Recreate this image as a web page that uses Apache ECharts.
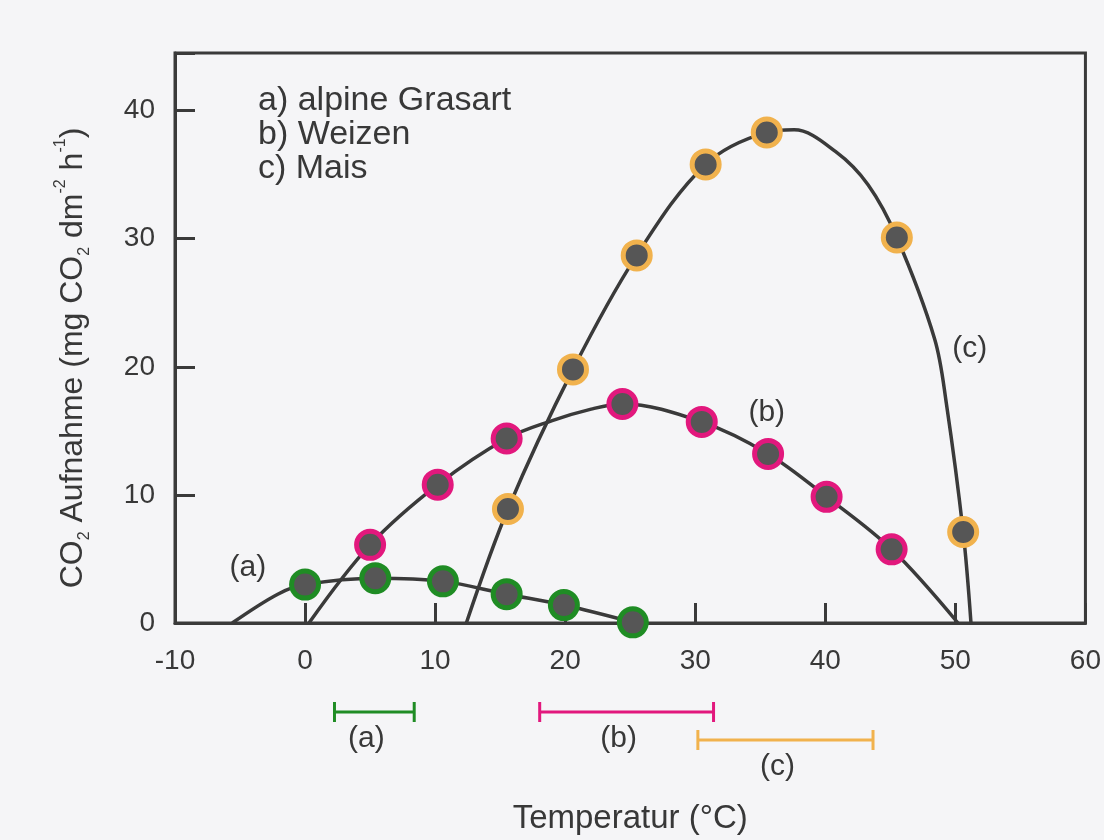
<!DOCTYPE html>
<html>
<head>
    <meta charset="utf-8">
    <script src="https://cdn.jsdelivr.net/npm/echarts@6/dist/echarts.min.js"></script>
</head>
<body style="margin:0;background:#f5f5f7;">
    <div id="main" style="width: 1104px;height:840px;"></div>
    <script type="text/javascript">
        // Messpunkte [Temperatur °C, CO2-Aufnahme]
        var pointsA = [[0, 3.0], [5.4, 3.5], [10.6, 3.25], [15.5, 2.25], [19.9, 1.4], [25.2, 0.05]];
        var pointsB = [[5.0, 6.1], [10.2, 10.8], [15.5, 14.4], [24.4, 17.1], [30.5, 15.7], [35.6, 13.2], [40.1, 9.85], [45.1, 5.75]];
        var pointsC = [[15.6, 8.9], [20.6, 19.8], [25.5, 28.7], [30.8, 35.8], [35.5, 38.3], [45.5, 30.1], [50.6, 7.1]];

        var curveA = [[-5.6, 0], [-2.1, 2.25], [0, 3.0], [5.4, 3.5], [10.6, 3.25], [15.5, 2.25], [19.9, 1.4], [25.2, 0.05]];
        var curveB = [[0.3, 0], [5.0, 6.1], [10.2, 10.8], [15.5, 14.4], [19, 15.8], [22, 16.7], [24.4, 17.1], [30.5, 15.7], [35.6, 13.2], [40.1, 9.85], [45.1, 5.75], [50.2, 0]];
        var curveC = [[12.4, 0], [15.6, 8.9], [20.6, 19.8], [25.5, 28.7], [30.8, 35.8], [35.5, 38.3], [37.6, 38.5], [40.8, 36.8], [43.3, 34.2], [45.5, 30.1], [48.4, 22.2], [49.3, 17.2], [50.6, 7.1], [51.2, 0]];

        // Beschriftung der Kurven
        var curveLabelNames = ['(a)', '(b)', '(c)'];
        var curveLabelPos = [[-4.4, 4.3], [35.5, 16.4], [51.1, 21.4]];

        // Temperaturbereiche unter der Achse
        var rangeNames = ['(a)', '(b)', '(c)'];
        var rangeStart = [2.2, 17.9, 30.0];
        var rangeEnd = [8.3, 31.2, 43.4];
        var rangeRow = [12, 12, 40];

        var legendLines = ['a) alpine Grasart', 'b) Weizen', 'c) Mais'];

        var font = 'Liberation Sans';
        var textColor = '#383838';
        var lineColor = '#3a3a3a';
        var colors = ['#1f8c24', '#e2187d', '#f1b24d'];

        var myChart = echarts.init(document.getElementById('main'));

        function markers(data, color) {
            return {
                type: 'scatter',
                data: data,
                symbol: 'circle',
                symbolSize: 27,
                itemStyle: { color: '#565656', borderColor: color, borderWidth: 5, opacity: 1 },
                z: 5
            };
        }
        function curve(data) {
            return {
                type: 'line',
                data: data,
                smooth: 0.35,
                showSymbol: false,
                lineStyle: { color: lineColor, width: 3.5 },
                z: 3
            };
        }

        var rangeData = [];
        for (var i = 0; i < rangeNames.length; i++) {
            rangeData.push([rangeStart[i], rangeEnd[i], rangeRow[i]]);
        }
        var labelData = [];
        for (var j = 0; j < curveLabelNames.length; j++) {
            labelData.push({ name: curveLabelNames[j], value: curveLabelPos[j] });
        }

        var option = {
            backgroundColor: '#f5f5f7',
            animation: false,
            textStyle: { fontFamily: font },
            grid: [
                { left: 175, right: 14, top: 53, bottom: 215, show: true, borderColor: lineColor, borderWidth: 3 },
                { left: 175, right: 14, top: 700, height: 100 }
            ],
            xAxis: [
                {
                    type: 'value', min: -10, max: 60, interval: 10,
                    name: 'Temperatur (°C)', nameLocation: 'middle', nameGap: 179,
                    nameTextStyle: { fontSize: 33, color: textColor, fontFamily: font },
                    axisLine: { onZero: false, lineStyle: { color: lineColor, width: 3 } },
                    axisTick: { inside: true, length: 20, lineStyle: { color: lineColor, width: 3 } },
                    axisLabel: { fontSize: 28, color: textColor, margin: 24, fontFamily: font },
                    splitLine: { show: false }
                },
                { type: 'value', gridIndex: 1, min: -10, max: 60, show: false }
            ],
            yAxis: [
                {
                    type: 'value', min: 0, max: 44.5, interval: 10,
                    name: '{t|CO}{s|2}{t| Aufnahme (mg CO}{s|2}{t| dm}{p|-2}{t| h}{p|-1}{t|)}',
                    nameLocation: 'middle', nameGap: 82,
                    nameTextStyle: {
                        padding: [0, 40, 0, 0],
                        rich: {
                            t: { fontSize: 32, color: textColor, fontFamily: font, lineHeight: 40 },
                            s: { fontSize: 16, color: textColor, fontFamily: font, lineHeight: 16, verticalAlign: 'bottom' },
                            p: { fontSize: 16, color: textColor, fontFamily: font, lineHeight: 16, verticalAlign: 'top' }
                        }
                    },
                    axisLine: { onZero: false, lineStyle: { color: lineColor, width: 3 } },
                    axisTick: { inside: true, length: 20, lineStyle: { color: lineColor, width: 3 } },
                    axisLabel: {
                        fontSize: 28, color: textColor, margin: 20, fontFamily: font,
                        formatter: function (v) { return v % 10 === 0 ? String(v) : ''; }
                    },
                    splitLine: { show: false }
                },
                { type: 'value', gridIndex: 1, min: 0, max: 100, inverse: true, show: false }
            ],
            graphic: [
                {
                    type: 'text', left: 258, top: 84,
                    style: {
                        text: legendLines.join('\n'),
                        fill: textColor,
                        font: '34px "' + font + '"',
                        lineHeight: 34
                    }
                }
            ],
            series: [
                curve(curveA),
                curve(curveB),
                curve(curveC),
                markers(pointsA, colors[0]),
                markers(pointsB, colors[1]),
                markers(pointsC, colors[2]),
                {
                    type: 'scatter',
                    data: labelData,
                    symbolSize: 1,
                    itemStyle: { color: 'rgba(0,0,0,0)', opacity: 1 },
                    label: {
                        show: true, position: 'inside', formatter: '{b}',
                        fontSize: 30, color: textColor, fontFamily: font, opacity: 1
                    },
                    z: 6
                },
                {
                    type: 'custom',
                    xAxisIndex: 1,
                    yAxisIndex: 1,
                    data: rangeData,
                    renderItem: function (params, api) {
                        var p1 = api.coord([api.value(0), api.value(2)]);
                        var p2 = api.coord([api.value(1), api.value(2)]);
                        var c = colors[params.dataIndex];
                        var st = { stroke: c, lineWidth: 3 };
                        return {
                            type: 'group',
                            children: [
                                { type: 'line', shape: { x1: p1[0], y1: p1[1], x2: p2[0], y2: p2[1] }, style: st },
                                { type: 'line', shape: { x1: p1[0], y1: p1[1] - 10, x2: p1[0], y2: p1[1] + 10 }, style: st },
                                { type: 'line', shape: { x1: p2[0], y1: p2[1] - 10, x2: p2[0], y2: p2[1] + 10 }, style: st },
                                {
                                    type: 'text', x: (p1[0] + p2[0]) / 2 - 8, y: p1[1] + 27,
                                    style: {
                                        text: rangeNames[params.dataIndex], fill: textColor,
                                        fontSize: 30, fontFamily: font,
                                        align: 'center', verticalAlign: 'middle'
                                    }
                                }
                            ]
                        };
                    }
                }
            ]
        };
        myChart.setOption(option);
    </script>
</body>
</html>
